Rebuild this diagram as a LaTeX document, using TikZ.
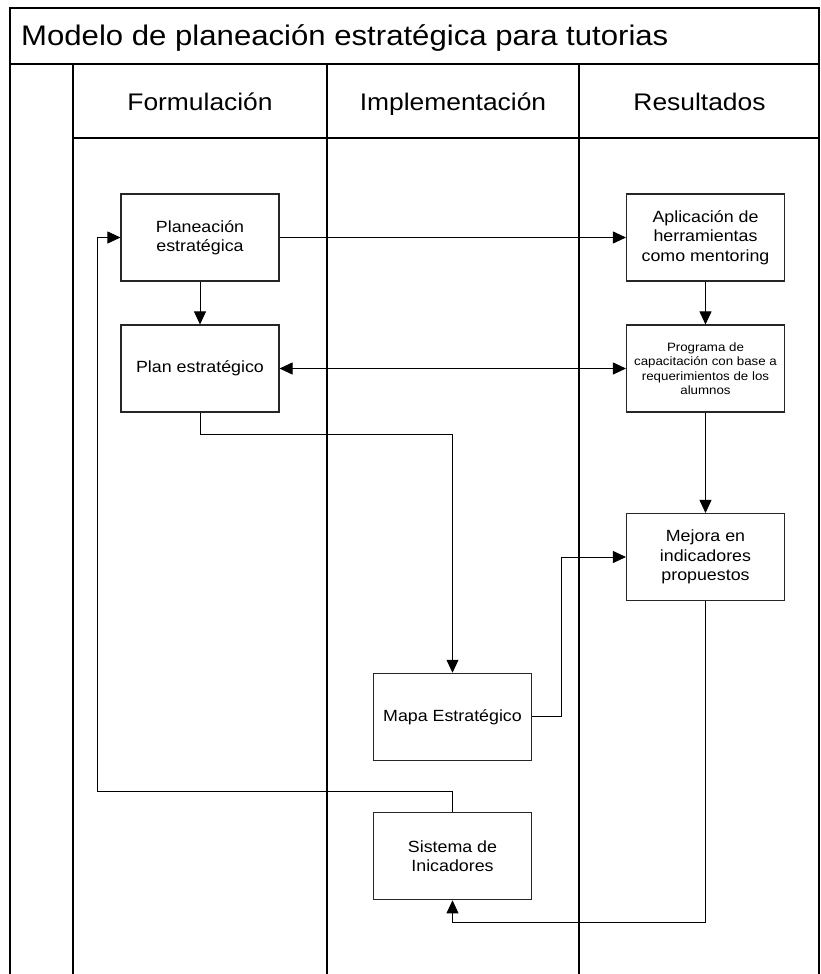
\documentclass[tikz,border=0pt]{standalone}
\usepackage{fontspec}
\setmainfont{Liberation Sans}[FakeStretch=1.1]
\usetikzlibrary{arrows.meta}
\begin{document}
\begin{tikzpicture}[x=1pt,y=-1pt,
  frame/.style={line width=1.4pt,draw=black},
  box/.style={draw=black!85,line width=1.1pt,minimum width=158pt,minimum height=87pt,inner sep=2pt,align=center,font=\fontsize{16.2}{19.5}\selectfont},
  smallbox/.style={box,font=\fontsize{12.1}{14.4}\selectfont},
  conn/.style={line width=0.8pt,draw=black},
  arr/.style={conn,-{Triangle[length=13pt,width=12pt]}},
  hdr/.style={font=\fontsize{24}{28}\selectfont,anchor=base,inner sep=0pt}
]
\useasboundingbox (0,0) rectangle (820,974);
% frame
\draw[frame] (10,974) -- (10,8) -- (819,8) -- (819,974);
\draw[frame] (10,64) -- (819,64);
\draw[frame] (73,64) -- (73,974);
\draw[frame] (327,64) -- (327,974);
\draw[frame] (579,64) -- (579,974);
\draw[frame] (73,138) -- (819,138);
\node[anchor=base west,font=\fontsize{28.3}{32}\selectfont,inner sep=0pt] (title) at (21,46) {Modelo de planeación estratégica para tutorias};
\node[hdr] (h1) at (200,110) {Formulación};
\node[hdr] (h2) at (453,110) {Implementación};
\node[hdr] (h3) at (699.5,110) {Resultados};
% boxes
\node[box] (pe) at (200,237.5) {Planeación\\estratégica};
\node[box] (pl) at (200,368.5) {Plan estratégico};
\node[box] (ap) at (705.5,237.5) {Aplicación de\\herramientas\\como mentoring};
\node[smallbox] (pc) at (705.5,368.5) {Programa de\\capacitación con base a\\requerimientos de los\\alumnos};
\node[box] (mi) at (705.5,557) {Mejora en\\indicadores\\propuestos};
\node[box] (me) at (452.5,716.8) {Mapa Estratégico};
\node[box] (si) at (452.5,856.3) {Sistema de\\Inicadores};
% bend coordinates
\coordinate (b1) at (200,434);
\coordinate (b2) at (452.5,434);
\coordinate (b3) at (561.5,716.8);
\coordinate (b4) at (561.5,557);
\coordinate (b5) at (452.5,791);
\coordinate (b6) at (97,791);
\coordinate (b7) at (97,237.5);
\coordinate (b8) at (705.5,922);
\coordinate (b9) at (452.5,922);
% connectors
\draw[arr] (pe.east) -- (ap.west);
\draw[arr] (pe.south) -- (pl.north);
\draw[conn,{Triangle[length=13pt,width=12pt]}-{Triangle[length=13pt,width=12pt]}] (pl.east) -- (pc.west);
\draw[arr] (ap.south) -- (pc.north);
\draw[arr] (pc.south) -- (mi.north);
\draw[arr] (pl.south) -- (b1) -- (b2) -- (me.north);
\draw[arr] (me.east) -- (b3) -- (b4) -- (mi.west);
\draw[arr] (si.north) -- (b5) -- (b6) -- (b7) -- (pe.west);
\draw[arr] (mi.south) -- (b8) -- (b9) -- (si.south);
\end{tikzpicture}
\end{document}
